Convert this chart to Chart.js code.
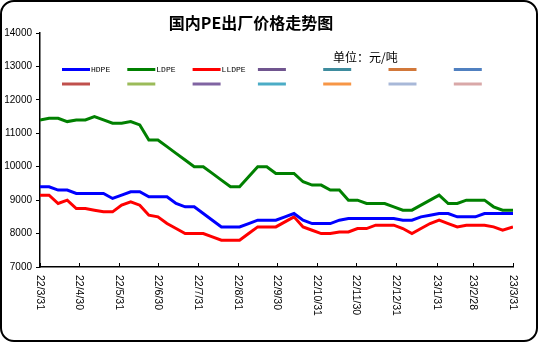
<!DOCTYPE html>
<html>
<head>
<meta charset="utf-8">
<script src="https://cdn.jsdelivr.net/npm/chart.js@4.4.1/dist/chart.umd.min.js"></script>
<style>
html,body{margin:0;padding:0;background:#fff;}
#wrap{width:538px;height:342px;position:relative;}
</style>
</head>
<body>
<div id="wrap"><canvas id="c" width="538" height="342"></canvas></div>
<script>
const titleText = '国内PE出厂价格走势图';
const unitText = '单位：元/吨';
const dates = ['2022-03-31','2022-04-07','2022-04-14','2022-04-21','2022-04-28','2022-05-05','2022-05-12','2022-05-19','2022-05-26',
 '2022-06-02','2022-06-09','2022-06-16','2022-06-23','2022-06-30','2022-07-07','2022-07-14','2022-07-21','2022-07-28',
 '2022-08-04','2022-08-11','2022-08-18','2022-08-25','2022-09-01','2022-09-08','2022-09-15','2022-09-22','2022-09-29',
 '2022-10-06','2022-10-13','2022-10-20','2022-10-27','2022-11-03','2022-11-10','2022-11-17','2022-11-24',
 '2022-12-01','2022-12-08','2022-12-15','2022-12-22','2022-12-29','2023-01-05','2023-01-12','2023-01-19','2023-01-26',
 '2023-02-02','2023-02-09','2023-02-16','2023-02-23','2023-03-02','2023-03-09','2023-03-16','2023-03-23','2023-03-31'];
const hdpe = [9400,9400,9300,9300,9200,9200,9200,9200,9050,9150,9250,9250,9100,9100,
 9100,8900,8800,8800,8600,8400,8200,8200,8200,8300,8400,8400,8400,
 8500,8600,8400,8300,8300,8300,8400,8450,8450,8450,8450,8450,8450,
 8400,8400,8500,8550,8600,8600,8500,8500,8500,8600,8600,8600,8600];
const ldpe = [11400,11450,11450,11350,11400,11400,11500,11400,11300,11300,11350,11250,10800,10800,
 10600,10400,10200,10000,10000,9800,9600,9400,9400,9700,10000,10000,9800,
 9800,9800,9550,9450,9450,9300,9300,9000,9000,8900,8900,8900,8800,
 8700,8700,8850,9000,9150,8900,8900,9000,9000,9000,8800,8700,8700];
const lldpe = [9150,9150,8900,9000,8750,8750,8700,8650,8650,8850,8950,8850,8550,8500,
 8300,8150,8000,8000,8000,7900,7800,7800,7800,8000,8200,8200,8200,
 8350,8500,8200,8100,8000,8000,8050,8050,8150,8150,8250,8250,8250,
 8150,8000,8150,8300,8400,8300,8200,8250,8250,8250,8200,8100,8200];
const seriesNames = ['HDPE','LDPE','LLDPE'];
const seriesColors = ['#0000FF','#008000','#FF0000'];
const emptyColors = ['#70558F','#3E8C9E','#D2783A','#5080C0','#C0504D','#9BBB59','#8064A2','#4BACC6','#F79646','#A8B8D8','#D9A8A8'];
const monthLabels = ['22/3/31','22/4/30','22/5/31','22/6/30','22/7/31','22/8/31','22/9/30','22/10/31','22/11/30','22/12/31','23/1/31','23/2/28','23/3/31'];
const yTicks = [7000,8000,9000,10000,11000,12000,13000,14000];

const DAY = 86400000;
const t0 = Date.UTC(2022,2,31);
function dayOf(s){const p=s.split('-').map(Number);return Math.round((Date.UTC(p[0],p[1]-1,p[2])-t0)/DAY);}
function dayOfLabel(l){const p=l.split('/').map(Number);return Math.round((Date.UTC(2000+p[0],p[1]-1,p[2])-t0)/DAY);}
const xs = dates.map(dayOf);
const monthDays = monthLabels.map(dayOfLabel);
const seriesVals = [hdpe, ldpe, lldpe];

const datasets = seriesVals.map((v,k)=>({
  label: seriesNames[k],
  data: v.map((y,i)=>({x:xs[i],y:y})),
  borderColor: seriesColors[k], backgroundColor: seriesColors[k],
  borderWidth: 3, pointRadius: 0, tension: 0, fill: false
}));
emptyColors.forEach(c=>datasets.push({label:'',data:[],borderColor:c,backgroundColor:c,borderWidth:3,pointRadius:0}));

const deco = {
  id:'deco',
  beforeDraw(chart){
    const ctx=chart.ctx;
    ctx.save();
    ctx.fillStyle='#fff';ctx.fillRect(0,0,538,342);
    ctx.restore();
  },
  afterDraw(chart){
    const ctx=chart.ctx; const xS=chart.scales.x; const area=chart.chartArea;
    ctx.save();
    ctx.strokeStyle='#000';ctx.lineWidth=2;
    ctx.beginPath();ctx.roundRect(1,1,536,340,13);ctx.stroke();
    ctx.fillStyle='#000';ctx.textAlign='center';ctx.textBaseline='middle';
    ctx.font="bold 16px 'Noto Sans CJK SC'";
    ctx.fillText(titleText,251,23);
    ctx.textAlign='left';
    ctx.font="12px 'Noto Sans CJK SC'";
    ctx.fillText(unitText,333,57);
    chart.data.datasets.forEach((d,k)=>{
      const row=Math.floor(k/7), col=k%7;
      const x0=62+col*65.3, y=69.5+row*14.5;
      ctx.strokeStyle=d.borderColor;ctx.lineWidth=3;ctx.lineCap='butt';
      ctx.beginPath();ctx.moveTo(x0,y);ctx.lineTo(x0+28,y);ctx.stroke();
      if(d.label){
        ctx.fillStyle='#000';ctx.font="8px 'Liberation Mono'";ctx.textBaseline='middle';
        ctx.fillText(d.label,x0+29,y+0.5);
      }
    });
    ctx.strokeStyle='#000';ctx.lineWidth=1;
    monthDays.forEach((d,i)=>{
      const px=Math.round(xS.getPixelForValue(d))+0.5;
      ctx.beginPath();ctx.moveTo(px,area.bottom);ctx.lineTo(px,area.bottom-4);ctx.stroke();
      ctx.save();
      ctx.translate(px-1,275);ctx.rotate(Math.PI/2);
      ctx.fillStyle='#000';ctx.font="10.5px 'Liberation Sans'";ctx.textAlign='left';ctx.textBaseline='middle';
      ctx.fillText(monthLabels[i],0,0);
      ctx.restore();
    });
    ctx.restore();
  }
};

new Chart(document.getElementById('c'),{
  type:'line',
  data:{datasets},
  plugins:[deco],
  options:{
    responsive:false, animation:false,
    layout:{padding:{top:33,right:25,left:0,bottom:0}},
    plugins:{legend:{display:false},title:{display:false},tooltip:{enabled:false}},
    scales:{
      x:{type:'linear',min:0,max:365,
        afterBuildTicks(s){s.ticks=monthDays.map(v=>({value:v}));},
        afterFit(s){s.height=75;},
        ticks:{display:false},
        grid:{display:false},
        border:{display:true,color:'#000',width:1.5}
      },
      y:{min:7000,max:14000,
        afterBuildTicks(s){s.ticks=yTicks.map(v=>({value:v}));},
        afterFit(s){s.width=40;},
        ticks:{color:'#000',padding:4,font:{family:'Liberation Sans',size:10},callback:(v)=>String(v)},
        grid:{display:true,drawOnChartArea:false,drawTicks:true,tickLength:4,color:'#000'},
        border:{display:true,color:'#000',width:1.5}
      }
    }
  }
});
</script>
</body>
</html>
